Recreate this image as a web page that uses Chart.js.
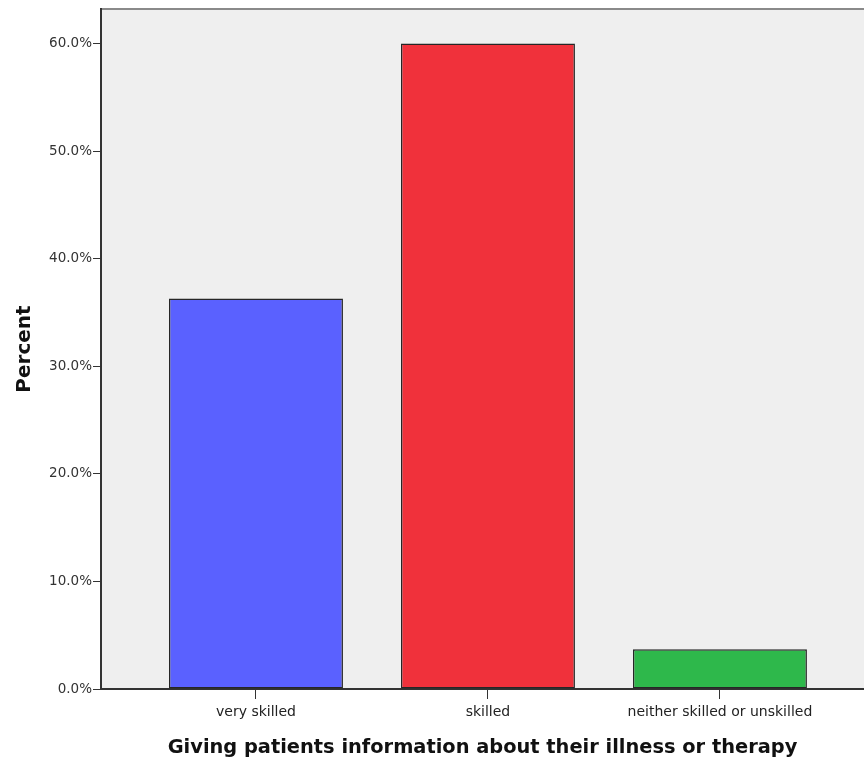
<!DOCTYPE html>
<html>
<head>
<meta charset="utf-8">
<script src="https://cdn.jsdelivr.net/npm/chart.js@4.4.0/dist/chart.umd.min.js"></script>
<style>
  html, body { margin: 0; padding: 0; background: #fff; overflow: hidden; }
  #wrap { width: 864px; height: 762px; }
</style>
</head>
<body>
<div id="wrap"><canvas id="barChart" width="864" height="762"></canvas></div>
<script>
// data
const categories = ['very skilled', 'skilled', 'neither skilled or unskilled'];
const percents = [36.3, 60.0, 3.7];
const barColors = ['#5a61ff', '#f0313b', '#2eb84b'];
const yTicks = [0, 10, 20, 30, 40, 50, 60];

// grey plot background + top frame line
const plotBackground = {
    id: 'plotBackground',
    beforeDraw(chart) {
        const { ctx, chartArea: a } = chart;
        ctx.save();
        ctx.fillStyle = '#efefef';
        ctx.fillRect(a.left, a.top, a.right - a.left, a.bottom - a.top);
        ctx.strokeStyle = '#8a8a8a';
        ctx.lineWidth = 2;
        ctx.beginPath();
        ctx.moveTo(a.left, a.top);
        ctx.lineTo(a.right, a.top);
        ctx.stroke();
        ctx.restore();
    }
};

document.addEventListener('DOMContentLoaded', () => {
    const ctx = document.getElementById('barChart').getContext('2d');

    new Chart(ctx, {
        type: 'bar',
        data: {
            datasets: [{
                data: percents.map((v, i) => ({ x: i, y: v })),
                backgroundColor: barColors,
                borderColor: '#262626',
                borderWidth: 1.5,
                borderSkipped: false,
                barPercentage: 0.75,
                categoryPercentage: 1
            }]
        },
        options: {
            responsive: false,
            animation: false,
            layout: { padding: { top: 8, right: 0, bottom: 0, left: 0 } },
            plugins: {
                legend: { display: false },
                tooltip: { enabled: false }
            },
            scales: {
                x: {
                    type: 'linear',
                    offset: false,
                    min: -0.668,
                    max: 2.621,
                    afterBuildTicks: scale => {
                        scale.ticks = categories.map((_, i) => ({ value: i }));
                    },
                    afterFit: scale => { scale.height = 73; },
                    grid: { display: true, drawOnChartArea: false, offset: false, color: '#333', tickLength: 10 },
                    border: { display: true, color: '#333', width: 2 },
                    ticks: {
                        padding: 5,
                        color: '#222',
                        font: { family: 'DejaVu Sans', size: 14 },
                        callback: v => categories[v]
                    },
                    title: {
                        display: true,
                        text: 'Giving patients information about their illness or therapy',
                        color: '#111',
                        font: { family: 'DejaVu Sans', size: 19.4, weight: 'bold' },
                        padding: { top: 0, bottom: 2 }
                    }
                },
                y: {
                    min: 0,
                    max: 63.2,
                    afterBuildTicks: scale => {
                        scale.ticks = yTicks.map(v => ({ value: v }));
                    },
                    afterFit: scale => { scale.width = 101; },
                    grid: { display: true, drawOnChartArea: false, color: '#333', tickLength: 8 },
                    border: { display: true, color: '#333', width: 2 },
                    ticks: {
                        padding: 1,
                        color: '#333',
                        font: { family: 'DejaVu Sans', size: 13.5 },
                        callback: v => v.toFixed(1) + '%'
                    },
                    title: {
                        display: true,
                        text: 'Percent',
                        color: '#111',
                        font: { family: 'DejaVu Sans', size: 20, weight: 'bold' },
                        padding: { top: 13, bottom: 0 }
                    }
                }
            }
        },
        plugins: [plotBackground]
    });
});
</script>
</body>
</html>
